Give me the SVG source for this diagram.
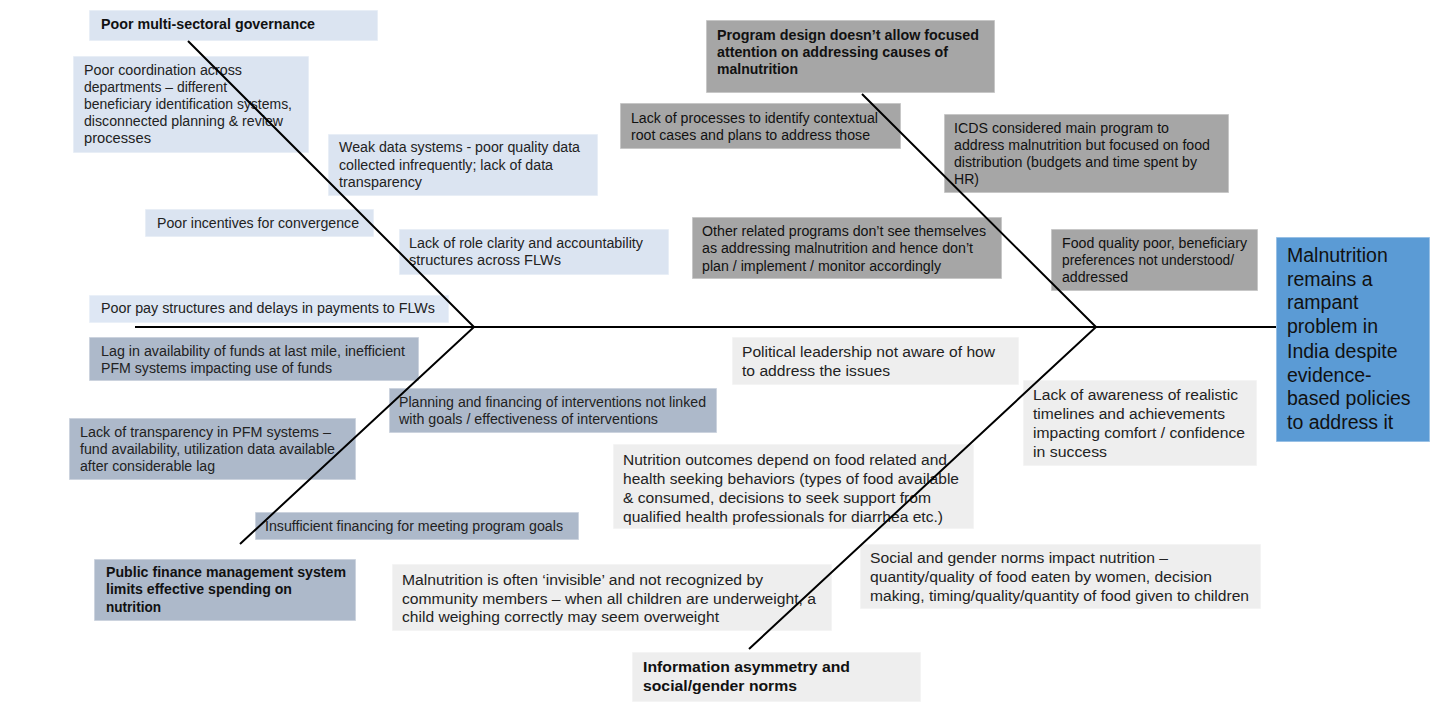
<svg xmlns="http://www.w3.org/2000/svg" width="1456" height="714" viewBox="0 0 1456 714">
<style>
rect{stroke:#ffffff;stroke-opacity:0.5;stroke-width:1.5}
.lb{fill:#dbe4f1}
.lb2{fill:#dee7f4}
.bg{fill:#adb9ca}
.lg{fill:#eeeeee}
.dg{fill:#a6a6a6}
.bl{fill:#5b9bd5}
text{font-family:"Liberation Sans",Arial,sans-serif;font-size:14px;fill:#222222}
.b{font-weight:bold;fill:#111111}
.m{font-size:15.5px}
.h{font-size:19.5px;fill:#111111}
.k{fill:#111111}
.bone{stroke:#000000;stroke-width:2;fill:none;stroke-linecap:butt}
</style>
<rect width="1456" height="714" fill="#ffffff" style="stroke:none"/>

<g id="node-governance">
<rect class="lb" x="89" y="10" width="289" height="31"/>
<text class="b" x="101" y="29" textLength="214" lengthAdjust="spacingAndGlyphs">Poor multi-sectoral governance</text>
</g>
<g id="node-coordination">
<rect class="lb" x="73" y="56" width="236" height="97"/>
<text x="84" y="75" textLength="158" lengthAdjust="spacingAndGlyphs">Poor coordination across</text>
<text x="84" y="92" textLength="143" lengthAdjust="spacingAndGlyphs">departments – different</text>
<text x="84" y="109" textLength="208" lengthAdjust="spacingAndGlyphs">beneficiary identification systems,</text>
<text x="84" y="126" textLength="199" lengthAdjust="spacingAndGlyphs">disconnected planning &amp; review</text>
<text x="84" y="143" textLength="67" lengthAdjust="spacingAndGlyphs">processes</text>
</g>
<g id="node-data">
<rect class="lb" x="328" y="134" width="270" height="62"/>
<text x="339" y="152" textLength="241" lengthAdjust="spacingAndGlyphs">Weak data systems - poor quality data</text>
<text x="339" y="170" textLength="214" lengthAdjust="spacingAndGlyphs">collected infrequently; lack of data</text>
<text x="339" y="187" textLength="83" lengthAdjust="spacingAndGlyphs">transparency</text>
</g>
<g id="node-incentives">
<rect class="lb" x="145" y="209" width="229" height="28"/>
<text x="157" y="228" textLength="202" lengthAdjust="spacingAndGlyphs">Poor incentives for convergence</text>
</g>
<g id="node-role">
<rect class="lb" x="399" y="229" width="270" height="46"/>
<text x="409" y="248" textLength="234" lengthAdjust="spacingAndGlyphs">Lack of role clarity and accountability</text>
<text x="409" y="265" textLength="152" lengthAdjust="spacingAndGlyphs">structures across FLWs</text>
</g>
<g id="node-pay">
<rect class="lb2" x="89" y="295" width="360" height="28"/>
<text x="101" y="313" textLength="334" lengthAdjust="spacingAndGlyphs">Poor pay structures and delays in payments to FLWs</text>
</g>
<g id="node-lag">
<rect class="bg" x="89" y="337" width="330" height="44"/>
<text x="101" y="356" textLength="304" lengthAdjust="spacingAndGlyphs">Lag in availability of funds at last mile, inefficient</text>
<text x="101" y="373" textLength="231" lengthAdjust="spacingAndGlyphs">PFM systems impacting use of funds</text>
</g>
<g id="node-planning">
<rect class="bg" x="389" y="388" width="328" height="45"/>
<text x="399" y="407" textLength="307" lengthAdjust="spacingAndGlyphs">Planning and financing of interventions not linked</text>
<text x="399" y="424" textLength="259" lengthAdjust="spacingAndGlyphs">with goals / effectiveness of interventions</text>
</g>
<g id="node-transparency">
<rect class="bg" x="69" y="418" width="287" height="62"/>
<text x="80" y="437" textLength="251" lengthAdjust="spacingAndGlyphs">Lack of transparency in PFM systems –</text>
<text x="80" y="454" textLength="255" lengthAdjust="spacingAndGlyphs">fund availability, utilization data available</text>
<text x="80" y="471" textLength="135" lengthAdjust="spacingAndGlyphs">after considerable lag</text>
</g>
<g id="node-financing">
<rect class="bg" x="255" y="512" width="324" height="28"/>
<text x="265" y="531" textLength="298" lengthAdjust="spacingAndGlyphs">Insufficient financing for meeting program goals</text>
</g>
<g id="node-pfm">
<rect class="bg" x="94" y="559" width="262" height="62"/>
<text class="b" x="106" y="577" textLength="240" lengthAdjust="spacingAndGlyphs">Public finance management system</text>
<text class="b" x="106" y="594" textLength="186" lengthAdjust="spacingAndGlyphs">limits effective spending on</text>
<text class="b" x="106" y="612" textLength="55" lengthAdjust="spacingAndGlyphs">nutrition</text>
</g>
<g id="node-invisible">
<rect class="lg" x="392" y="564" width="440" height="67"/>
<text class="m" x="402" y="585" textLength="361" lengthAdjust="spacingAndGlyphs">Malnutrition is often ‘invisible’ and not recognized by</text>
<text class="m" x="402" y="604" textLength="414" lengthAdjust="spacingAndGlyphs">community members – when all children are underweight, a</text>
<text class="m" x="402" y="622" textLength="317" lengthAdjust="spacingAndGlyphs">child weighing correctly may seem overweight</text>
</g>
<g id="node-information">
<rect class="lg" x="632" y="652" width="289" height="50"/>
<text class="b m" x="643" y="672" textLength="207" lengthAdjust="spacingAndGlyphs">Information asymmetry  and</text>
<text class="b m" x="643" y="691" textLength="154" lengthAdjust="spacingAndGlyphs">social/gender norms</text>
</g>
<g id="node-political">
<rect class="lg" x="732" y="337" width="287" height="48"/>
<text class="m" x="742" y="357" textLength="253" lengthAdjust="spacingAndGlyphs">Political leadership not aware of how</text>
<text class="m" x="742" y="376" textLength="148" lengthAdjust="spacingAndGlyphs">to address the issues</text>
</g>
<g id="node-behaviors">
<rect class="lg" x="613" y="444" width="361" height="85"/>
<text class="m" x="623" y="465" textLength="324" lengthAdjust="spacingAndGlyphs">Nutrition outcomes depend on food related and</text>
<text class="m" x="623" y="484" textLength="336" lengthAdjust="spacingAndGlyphs">health seeking behaviors (types of food available</text>
<text class="m" x="623" y="503" textLength="308" lengthAdjust="spacingAndGlyphs">&amp; consumed, decisions to seek support from</text>
<text class="m" x="623" y="522" textLength="320" lengthAdjust="spacingAndGlyphs">qualified health professionals for diarrhea etc.)</text>
</g>
<g id="node-norms">
<rect class="lg" x="860" y="544" width="401" height="65"/>
<text class="m" x="870" y="563" textLength="298" lengthAdjust="spacingAndGlyphs">Social and gender norms impact nutrition –</text>
<text class="m" x="870" y="582" textLength="342" lengthAdjust="spacingAndGlyphs">quantity/quality  of food eaten by women,  decision</text>
<text class="m" x="870" y="601" textLength="379" lengthAdjust="spacingAndGlyphs">making,  timing/quality/quantity  of food given to children</text>
</g>
<g id="node-awareness">
<rect class="lg" x="1023" y="380" width="234" height="86"/>
<text class="m" x="1033" y="400" textLength="205" lengthAdjust="spacingAndGlyphs">Lack of awareness of realistic</text>
<text class="m" x="1033" y="419" textLength="192" lengthAdjust="spacingAndGlyphs">timelines  and achievements</text>
<text class="m" x="1033" y="438" textLength="212" lengthAdjust="spacingAndGlyphs">impacting  comfort / confidence</text>
<text class="m" x="1033" y="457" textLength="74" lengthAdjust="spacingAndGlyphs">in success</text>
</g>
<g id="node-design">
<rect class="dg" x="706" y="20" width="289" height="73"/>
<text class="b" x="717" y="40" textLength="262" lengthAdjust="spacingAndGlyphs">Program design doesn’t allow focused</text>
<text class="b" x="717" y="57" textLength="231" lengthAdjust="spacingAndGlyphs">attention on addressing causes of</text>
<text class="b" x="717" y="74" textLength="81" lengthAdjust="spacingAndGlyphs">malnutrition</text>
</g>
<g id="node-processes">
<rect class="dg" x="620" y="103" width="281" height="46"/>
<text class="k" x="631" y="123" textLength="247" lengthAdjust="spacingAndGlyphs">Lack of processes to identify contextual</text>
<text class="k" x="631" y="140" textLength="239" lengthAdjust="spacingAndGlyphs">root cases and plans to address those</text>
</g>
<g id="node-icds">
<rect class="dg" x="944" y="114" width="285" height="79"/>
<text class="k" x="954" y="133" textLength="215" lengthAdjust="spacingAndGlyphs">ICDS considered main program to</text>
<text class="k" x="954" y="150" textLength="256" lengthAdjust="spacingAndGlyphs">address malnutrition but focused on food</text>
<text class="k" x="954" y="167" textLength="243" lengthAdjust="spacingAndGlyphs">distribution (budgets and time spent by</text>
<text class="k" x="954" y="184" textLength="25" lengthAdjust="spacingAndGlyphs">HR)</text>
</g>
<g id="node-other">
<rect class="dg" x="692" y="217" width="310" height="62"/>
<text class="k" x="702" y="236" textLength="284" lengthAdjust="spacingAndGlyphs">Other related programs don’t see themselves</text>
<text class="k" x="702" y="253" textLength="271" lengthAdjust="spacingAndGlyphs">as addressing malnutrition and hence don’t</text>
<text class="k" x="702" y="271" textLength="239" lengthAdjust="spacingAndGlyphs">plan / implement  / monitor accordingly</text>
</g>
<g id="node-food">
<rect class="dg" x="1051" y="229" width="207" height="62"/>
<text class="k" x="1062" y="248" textLength="185" lengthAdjust="spacingAndGlyphs">Food quality poor, beneficiary</text>
<text class="k" x="1062" y="265" textLength="172" lengthAdjust="spacingAndGlyphs">preferences not understood/</text>
<text class="k" x="1062" y="282" textLength="66" lengthAdjust="spacingAndGlyphs">addressed</text>
</g>
<g id="node-problem">
<rect class="bl" x="1276" y="237" width="154" height="205"/>
<text class="h" x="1287" y="262">Malnutrition</text>
<text class="h" x="1287" y="286">remains a</text>
<text class="h" x="1287" y="309">rampant</text>
<text class="h" x="1287" y="333">problem in</text>
<text class="h" x="1287" y="358">India despite</text>
<text class="h" x="1287" y="382">evidence-</text>
<text class="h" x="1287" y="405">based policies</text>
<text class="h" x="1287" y="429">to address it</text>
</g>

<g id="connectors">
<path class="bone" d="M135 327 H1276"/>
<path class="bone" d="M188 41 L474 327 L240 544"/>
<path class="bone" d="M862 94 L1096 327 L749 649"/>
</g>
</svg>
